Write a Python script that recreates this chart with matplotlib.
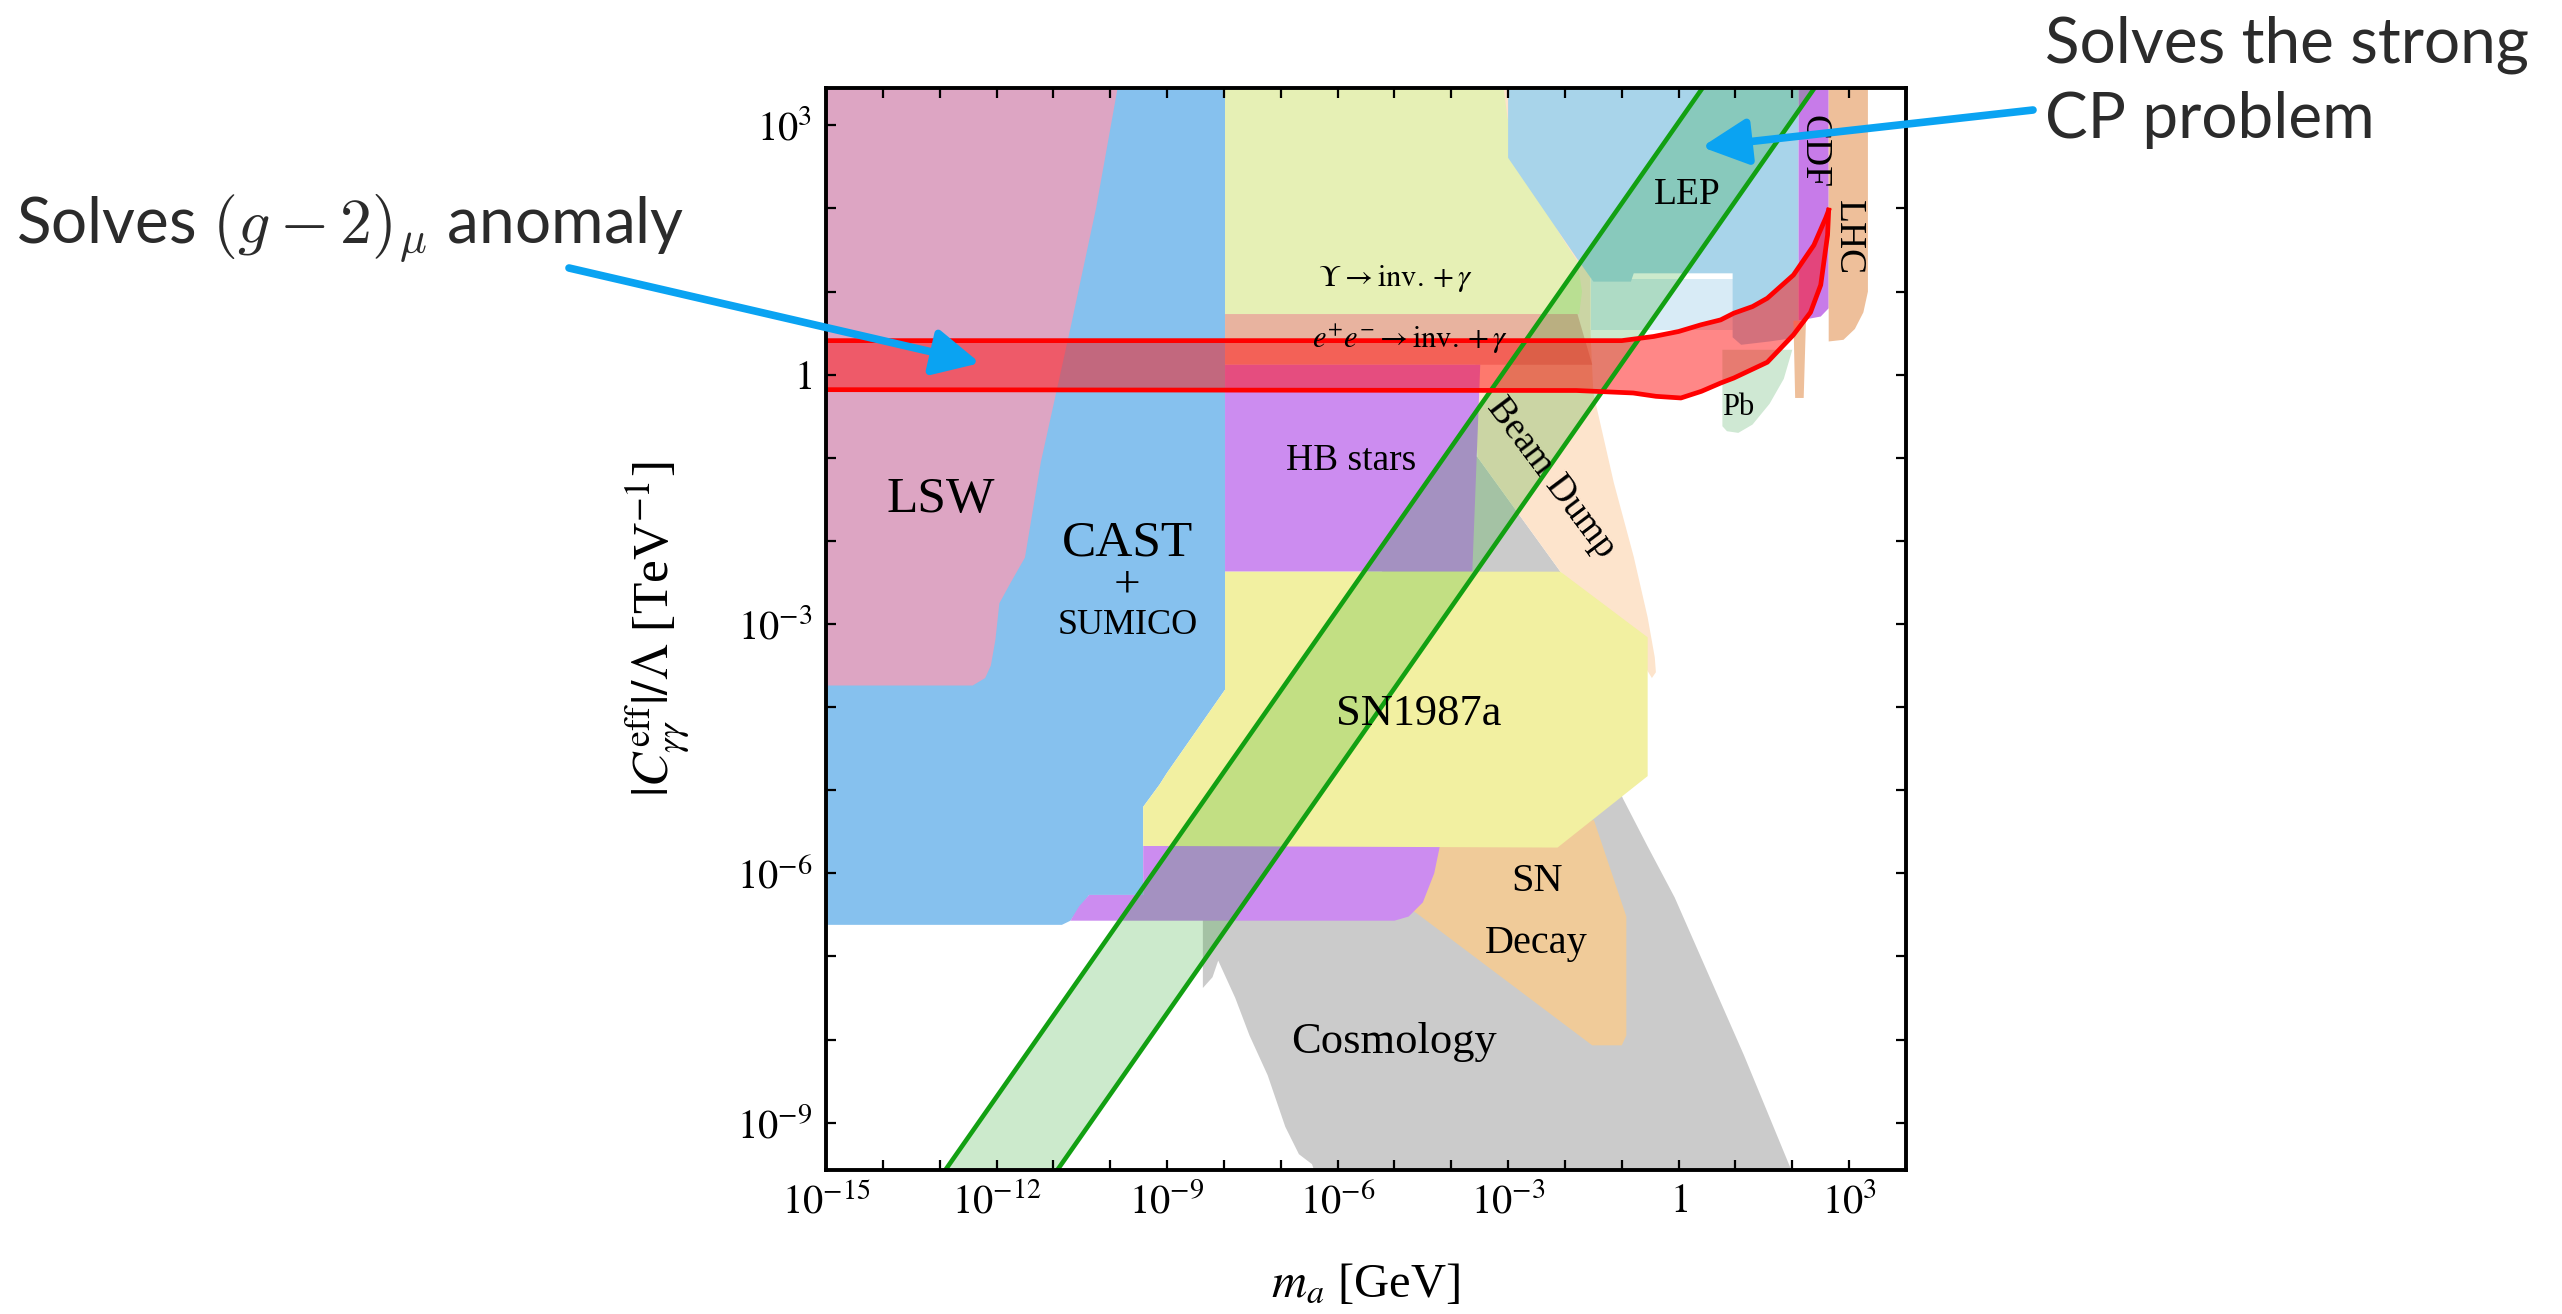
import numpy as np
import matplotlib.pyplot as plt
from matplotlib.ticker import FixedLocator, NullLocator

plt.rcParams['font.family'] = ['Liberation Serif', 'DejaVu Serif']
plt.rcParams['mathtext.fontset'] = 'stix'

# region outlines, points are (log10 m_a [GeV], log10 |C|/Lambda [TeV^-1])
cosmology = [(-8.37, -6.0), (-8.37, -7.38), (-8.2, -7.25), (-8.1, -7.05), (-7.8, -7.5), (-7.55, -7.95),
             (-7.23, -8.43), (-6.92, -9.05), (-6.68, -9.38), (-6.45, -9.5), (-6.4, -9.6), (2.0, -9.6),
             (1.15, -8.19), (0.54, -7.24), (-0.07, -6.29), (-0.55, -5.67), (-0.98, -5.10), (-1.3, -4.6),
             (-2.08, -2.37), (-3.54, -0.99), (-3.7, -0.95), (-7.5, -4.5)]
beam_dump = [(-3.3, 3.45), (-1.0, 3.45), (-1.55, 1.15), (-1.55, 0.5), (-1.5, -0.22), (-1.14, -1.30),
             (-0.79, -2.19), (-0.545, -2.92), (-0.42, -3.4), (-0.40, -3.58), (-0.47, -3.65), (-0.56, -3.55),
             (-0.7, -3.3), (-2.08, -2.37), (-3.54, -0.99), (-3.6, 0.0), (-3.4, 1.0), (-3.3, 2.0)]
sn_decay = [(-4.25, -5.6), (-1.49, -5.36), (-0.92, -6.52), (-0.92, -7.95), (-1.0, -8.07), (-1.52, -8.07),
            (-4.61, -6.48), (-4.8, -6.4)]
cast = [(-15, -6.62), (-10.85, -6.62), (-10.7, -6.57), (-10.37, -6.26), (-9.42, -6.26), (-9.42, -5.2),
        (-9.13, -4.93), (-9.0, -4.79), (-7.98, -3.79), (-7.98, 3.45), (-15, 3.45)]
lsw = [(-15, 3.45), (-9.87, 3.45), (-10.25, 2.0), (-10.7, 0.56), (-11.22, -1.05), (-11.5, -2.2),
       (-11.75, -2.5), (-11.95, -2.75), (-12.02, -3.19), (-12.1, -3.5), (-12.2, -3.65), (-12.42, -3.74),
       (-15, -3.74)]
upsilon = [(-7.98, 3.45), (-3.08, 3.45), (-3.01, 3.09), (-2.78, 2.61), (-2.48, 2.16), (-2.08, 1.68),
           (-1.78, 1.36), (-1.7, 1.0), (-1.75, 0.73), (-7.98, 0.73)]
ee_inv = [(-7.98, 0.73), (-1.78, 0.73), (-1.52, 0.12), (-7.98, 0.12)]
hb_upper = [(-7.98, 0.12), (-3.49, 0.12), (-3.63, -2.37), (-7.98, -2.37)]
hb_lower = [(-9.42, -5.67), (-4.2, -5.67), (-4.3, -6.0), (-4.5, -6.35), (-4.75, -6.52), (-5.0, -6.57),
            (-10.7, -6.57), (-10.55, -6.4), (-10.37, -6.26), (-9.42, -6.26)]
sn1987a = [(-7.98, -2.37), (-2.08, -2.37), (-0.545, -3.16), (-0.545, -4.83), (-2.13, -5.69),
           (-9.42, -5.67), (-9.42, -5.2), (-9.13, -4.93), (-9.0, -4.79), (-7.98, -3.79)]
lep_low = [(-1.55, 0.54), (-1.55, 1.15), (0.95, 1.15), (0.95, 0.54)]
lep = [(-3.0, 3.45), (2.11, 3.45), (2.11, 0.45), (1.6, 0.4), (1.1, 0.36), (0.95, 0.45), (0.95, 1.22),
       (-0.79, 1.22), (-0.84, 1.12), (-1.50, 1.12), (-1.79, 1.40), (-3.0, 2.61)]
pb = [(0.77, 0.3), (0.77, -0.62), (0.85, -0.68), (1.05, -0.7), (1.3, -0.6), (1.6, -0.35),
      (1.85, -0.05), (2.0, 0.3)]
lhc_strip = [(2.02, 0.65), (2.24, 0.65), (2.2, -0.28), (2.05, -0.28)]
cdf = [(2.11, 3.45), (2.64, 3.45), (2.64, 0.8), (2.5, 0.7), (2.11, 0.65)]
lhc = [(2.64, 3.45), (3.33, 3.45), (3.33, 1.0), (3.25, 0.75), (3.1, 0.55), (2.9, 0.42), (2.64, 0.4)]

# QCD axion band edges
qcd_lo = [(-12.9, -9.57), (0.42, 3.45)]
qcd_hi = [(-10.93, -9.57), (2.39, 3.45)]

# (g-2)_mu band edges
gm2_upper = [(-15, 0.41), (-1.0, 0.41), (-0.44, 0.46), (0.0, 0.52), (0.39, 0.60), (0.74, 0.66),
             (0.97, 0.74), (1.3, 0.82), (1.56, 0.92), (2.02, 1.2), (2.38, 1.56), (2.59, 1.89), (2.64, 1.98)]
gm2_lower = [(-15, -0.18), (-1.8, -0.19), (-0.8, -0.22), (-0.4, -0.26), (0.04, -0.28), (0.4, -0.2),
             (0.74, -0.1), (0.97, -0.04), (1.56, 0.15), (2.02, 0.48), (2.32, 0.75), (2.5, 1.08),
             (2.62, 1.68), (2.64, 1.98)]

x_decades = list(range(-15, 5))
y_decades = list(range(-9, 4))


def lin(pts):
    a = np.array(pts, dtype=float)
    return 10.0 ** a[:, 0], 10.0 ** a[:, 1]


fig = plt.figure(figsize=(25.62, 13.14), dpi=100)
ax = fig.add_axes([826 / 2562, 144 / 1314, 1080 / 2562, 1082 / 1314])
ax.set_xscale('log')
ax.set_yscale('log')

regions = [(cosmology, '#cbcbcb'), (beam_dump, '#fde4cc'), (sn_decay, '#f0cb99'), (cast, '#86c1ee'),
           (lsw, '#dda5c3'), (upsilon, '#e6f0b5'), (ee_inv, '#e8b39f'), (hb_upper, '#cc8cf0'),
           (hb_lower, '#cc8cf0'), (sn1987a, '#f2f0a1'), (lep_low, '#d8ebf6'), (lep, '#a8d4ea'),
           (pb, '#cfe8d3'), (lhc_strip, '#eebf9a'), (cdf, '#c77be9'), (lhc, '#eebf9a')]
for pts, col in regions:
    xs, ys = lin(pts)
    ax.fill(xs, ys, color=col, lw=0)

# QCD axion band
band = qcd_lo + qcd_hi[::-1]
xs, ys = lin(band)
ax.fill(xs, ys, color='#1aa31a', alpha=0.22, lw=0)
for edge in (qcd_lo, qcd_hi):
    xs, ys = lin(edge)
    ax.plot(xs, ys, color='#12a012', lw=3.3)

# (g-2) band
xs, ys = lin(gm2_upper + gm2_lower[::-1])
ax.fill(xs, ys, color='#ff1010', alpha=0.5, lw=0)
for edge in (gm2_upper, gm2_lower):
    xs, ys = lin(edge)
    ax.plot(xs, ys, color='#ff0000', lw=3.4)

ax.set_xlim(1e-15, 1e4)
ax.set_ylim(10 ** -9.57, 10 ** 3.45)


def dec_label(k):
    if k % 3:
        return ''
    if k == 0:
        return '$1$'
    return '$10^{%d}$' % k


ax.xaxis.set_major_locator(FixedLocator([10.0 ** k for k in x_decades]))
ax.xaxis.set_ticklabels([dec_label(k) for k in x_decades])
ax.yaxis.set_major_locator(FixedLocator([10.0 ** k for k in y_decades]))
ax.yaxis.set_ticklabels([dec_label(k) for k in y_decades])
ax.xaxis.set_minor_locator(NullLocator())
ax.yaxis.set_minor_locator(NullLocator())
ax.tick_params(direction='in', length=7, width=1.6, top=True, right=True, labelsize=29, pad=10)
for sp in ax.spines.values():
    sp.set_linewidth(2.8)

ax.set_xlabel(r'$m_a$ [GeV]', fontsize=35)
ax.set_ylabel(r'$|C_{\gamma\gamma}^{\rm eff}|/\Lambda$ [TeV$^{-1}$]', fontsize=37)
ax.xaxis.set_label_coords(0.5, -0.085)
ax.yaxis.set_label_coords(-0.125, 0.5)


def lab(m, c, s, size, **kw):
    ax.text(10.0 ** m, 10.0 ** c, s, fontsize=size, ha='center', va='center', **kw)


lab(-12.99, -1.51, 'LSW', 37)
lab(-9.70, -2.03, 'CAST', 37)
lab(-9.70, -2.53, '+', 34)
lab(-9.70, -3.02, 'SUMICO', 26)
lab(-4.98, 1.16, r'$\Upsilon \to {\rm inv.} + \gamma$', 22)
lab(-4.72, 0.42, r'$e^{+}e^{-} \to {\rm inv.} + \gamma$', 22)
lab(-5.77, -1.04, 'HB stars', 27)
lab(-2.24, -1.24, 'Beam Dump', 27, rotation=-53, rotation_mode='anchor')
lab(0.16, 2.16, 'LEP', 27)
lab(2.38, 2.68, 'CDF', 27, rotation=-90)
lab(2.99, 1.65, 'LHC', 27, rotation=-90)
lab(1.04, -0.39, 'Pb', 22)
lab(-4.58, -4.08, 'SN1987a', 32)
lab(-2.50, -6.10, 'SN', 29)
lab(-2.50, -6.85, 'Decay', 29)
lab(-5.0, -8.03, 'Cosmology', 32)

# annotations outside the plot
arrow_kw = dict(arrowstyle='-|>,head_length=2.8,head_width=1.4', mutation_scale=10, lw=5.5,
                color='#0aa3f2', shrinkA=0, shrinkB=0)
ax.annotate('', xy=(10 ** -12.29, 10 ** 0.14), xytext=(569, 1314 - 268), textcoords='figure pixels',
            arrowprops=arrow_kw, annotation_clip=False)
ax.annotate('', xy=(10 ** 0.405, 10 ** 2.74), xytext=(2033, 1314 - 110), textcoords='figure pixels',
            arrowprops=arrow_kw, annotation_clip=False)

fig.text(16 / 2562, 1 - 243 / 1314, r'Solves $(g-2)_\mu$ anomaly', fontsize=46, family='Lato',
         color='#2b2b2b', va='baseline', math_fontfamily='cm')
fig.text(2045 / 2562, 1 - 62 / 1314, 'Solves the strong', fontsize=46, family='Lato',
         color='#2b2b2b', va='baseline')
fig.text(2045 / 2562, 1 - 138 / 1314, 'CP problem', fontsize=46, family='Lato',
         color='#2b2b2b', va='baseline')

fig.savefig('out.png', dpi=100)
